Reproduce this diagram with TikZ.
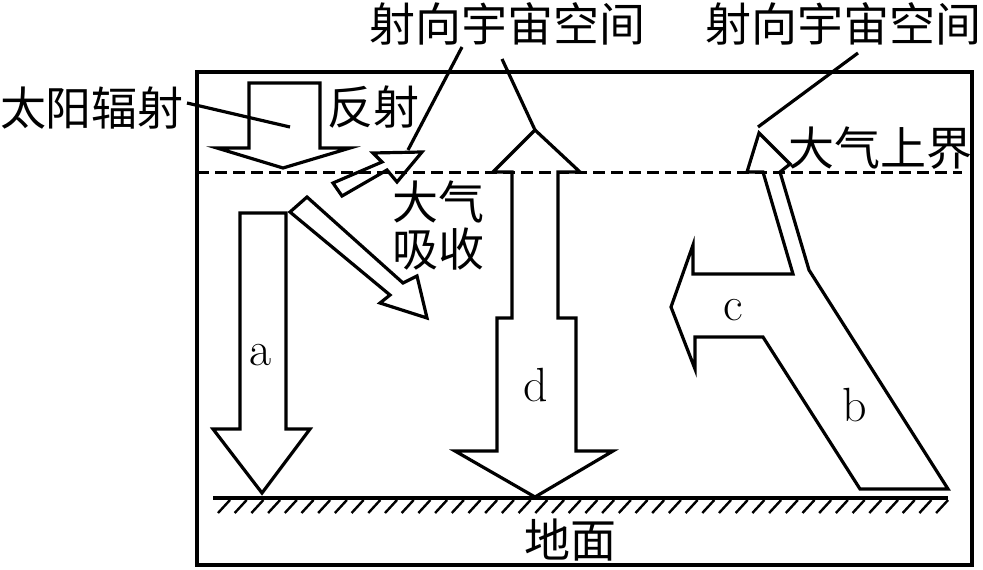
\documentclass[tikz,border=0pt]{standalone}
\usepackage{fontspec}
\newfontfamily\cjk{Noto Sans CJK SC}
\begin{document}
\begin{tikzpicture}[x=1pt,y=-1pt,
  outl/.style={draw=black,line width=3.2pt,line join=miter},
  lead/.style={draw=black,line width=3.2pt},
  zh/.style={font=\cjk\fontsize{46}{46}\selectfont,inner sep=0pt},
  lt/.style={font=\fontsize{48}{48}\selectfont,inner sep=0pt},
  hatch/.style={draw=black,line width=2.4pt}]
\useasboundingbox (0,0) rectangle (983,570);
% frame
\draw[outl] (197,72) rectangle (972,565);
% atmosphere top (dashed)
\draw[draw=black,line width=3pt,dash pattern=on 12pt off 6pt] (197,172) -- (962,172);
% ground
\draw[draw=black,line width=3.2pt] (213,498) -- (948,498);
\foreach \i in {0,...,43} \draw[hatch] ({218+16.7*\i},513) -- ++(12,-13);
% solar radiation arrow
\draw[outl] (249,83) -- (320,83) -- (320,148) -- (350,148) -- (283,168) -- (217,148) -- (249,148) -- cycle;
% arrow a
\draw[outl] (240,213) -- (286,213) -- (286,429) -- (310,429) -- (262,493) -- (213,429) -- (240,429) -- cycle;
% arrow d
\draw[outl] (535,130) -- (580,172) -- (558,172) -- (558,318) -- (576,318) -- (576,451) -- (613,451) -- (535,497) -- (455,451) -- (497,451) -- (497,318) -- (512,318) -- (512,172) -- (493,172) -- cycle;
% reflection arrow
\draw[outl] (333,183) -- (382,162) -- (373,153) -- (422,152) -- (397,182) -- (387,170) -- (342,196) -- cycle;
% absorption arrow
\draw[outl] (290,212) -- (307,197) -- (403,283) -- (417,276) -- (427,318) -- (380,303) -- (390,295) -- cycle;
% arrows b, c and up
\draw[outl] (671,307) -- (693,245) -- (693,274) -- (793,274) -- (763,172) -- (747,172) -- (759,133) -- (790,164) -- (780,172) -- (809,270) -- (948,489) -- (860,489) -- (763,337) -- (695,337) -- (695,369) -- cycle;
% labels
\node[zh] (sun) at (92,108) {太阳辐射};
\node[zh] (refl) at (373,107) {反射};
\node[zh] (space1) at (507,24) {射向宇宙空间};
\node[zh] (space2) at (843,24) {射向宇宙空间};
\node[zh] (top) at (880,148) {大气上界};
\node[zh] (abs1) at (438,202) {大气};
\node[zh] (abs2) at (438,249) {吸收};
\node[zh] (ground) at (570,540) {地面};
\node[lt] (la) at (261,355) {a};
\node[lt] (lb) at (855,405) {b};
\node[lt] (lc) at (733,310) {c};
\node[lt] (ld) at (536,385) {d};
% leader lines
\coordinate (sunA) at (187,103); \coordinate (sunB) at (290,127);
\coordinate (s1A) at (462,47); \coordinate (s1B) at (408,150);
\coordinate (s2A) at (502,59); \coordinate (s2B) at (535,130);
\coordinate (s3A) at (858,53); \coordinate (s3B) at (758,127);
\draw[lead] (sunA) -- (sunB);
\draw[lead] (s1A) -- (s1B);
\draw[lead] (s2A) -- (s2B);
\draw[lead] (s3A) -- (s3B);
\end{tikzpicture}
\end{document}
